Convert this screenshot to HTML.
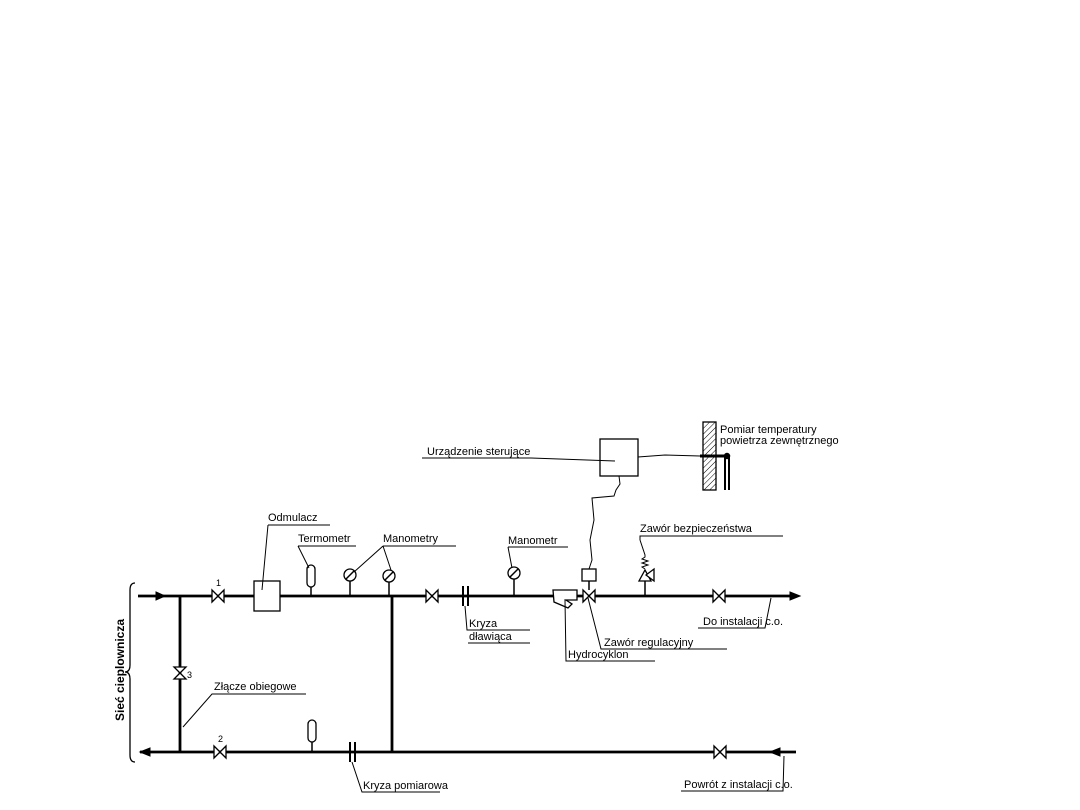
<!DOCTYPE html>
<html><head><meta charset="utf-8"><style>
html,body{margin:0;padding:0;background:#fff;width:1080px;height:810px;overflow:hidden}
svg text{font-family:"Liberation Sans",sans-serif;font-size:11px;fill:#000}
</style></head><body>
<svg width="1080" height="810" viewBox="0 0 1080 810" xmlns="http://www.w3.org/2000/svg">
<defs>
<pattern id="h" width="4" height="4" patternUnits="userSpaceOnUse" patternTransform="rotate(45)"><line x1="0" y1="0" x2="0" y2="4" stroke="#000" stroke-width="1"/></pattern>
</defs>
<g stroke="#000" fill="none">
<line x1="138" y1="596" x2="796" y2="596" stroke-width="2.8"/>
<line x1="140" y1="752" x2="796" y2="752" stroke-width="2.8"/>
<line x1="180" y1="596" x2="180" y2="752" stroke-width="2.8"/>
<line x1="392" y1="596" x2="392" y2="752" stroke-width="2.8"/>
<polygon points="156,592 165,596 156,600" fill="#000"/>
<polygon points="800,596 790,592 790,600" fill="#000"/>
<polygon points="140,752 150,748 150,756" fill="#000"/>
<polygon points="770,752 780,748 780,756" fill="#000"/>
<path d="M135,583 Q130,583 130,590 L130,665 Q130,672 125,672 Q130,672 130,679 L130,755 Q130,762 135,762" stroke-width="1.3"/>
</g>
<text transform="translate(124,670) rotate(-90)" text-anchor="middle" style="font-size:12px;font-weight:bold">Sieć cieplownicza</text>
<g stroke="#000" stroke-width="1.3" fill="#fff">
<polygon points="212,590 224,602 224,590 212,602"/>
<polygon points="426,590 438,602 438,590 426,602"/>
<polygon points="713,590 725,602 725,590 713,602"/>
<polygon points="214,746 226,758 226,746 214,758"/>
<polygon points="714,746 726,758 726,746 714,758"/>
<polygon points="174,667 186,667 174,679 186,679"/>
<rect x="254" y="581" width="26" height="30"/>
<rect x="307" y="565" width="8" height="22" rx="4"/>
<rect x="308" y="720" width="8" height="22" rx="4"/>
<circle cx="350" cy="575" r="6"/>
<circle cx="389" cy="576" r="6"/>
<circle cx="514" cy="573" r="6"/>
<rect x="600" y="439" width="38" height="37"/>
<rect x="582" y="569" width="14" height="12"/>
<path d="M553,590 L577,590 L577,600 L566,600 L572,604 L568,608 L554,602 Z"/>
<polygon points="583,590 595,602 595,590 583,602"/>
<polygon points="639,581 651,581 645,570"/>
<polygon points="646,575 654,569 654,581"/>
<rect x="703" y="422" width="13" height="68" fill="url(#h)"/>
</g>
<g stroke="#000" stroke-width="1.5" fill="none">
<line x1="311" y1="587" x2="311" y2="596"/>
<line x1="312" y1="742" x2="312" y2="752"/>
<line x1="350" y1="581" x2="350" y2="596"/>
<line x1="389" y1="582" x2="389" y2="596"/>
<line x1="514" y1="579" x2="514" y2="596"/>
<line x1="346" y1="579" x2="354" y2="571"/>
<line x1="385" y1="580" x2="393" y2="572"/>
<line x1="510" y1="577" x2="518" y2="569"/>
<line x1="589" y1="581" x2="589" y2="590"/>
<line x1="645" y1="581" x2="645" y2="596"/>
<path d="M645,569 l-3,-2 l6,-2 l-6,-2 l6,-2 l-6,-2 l3,-2 L645,555 L640,540" stroke-width="1"/>
<line x1="463" y1="586" x2="463" y2="606" stroke-width="2"/>
<line x1="468" y1="586" x2="468" y2="606" stroke-width="2"/>
<line x1="350" y1="742" x2="350" y2="762" stroke-width="2"/>
<line x1="355" y1="742" x2="355" y2="762" stroke-width="2"/>
<line x1="700" y1="456" x2="727" y2="456" stroke-width="3"/>
<circle cx="727" cy="456" r="2.5" fill="#000"/>
<line x1="725" y1="456" x2="725" y2="490" stroke-width="2"/>
<line x1="729" y1="456" x2="729" y2="490" stroke-width="2"/>
</g>
<g stroke="#000" stroke-width="1" fill="none">
<path d="M638,457 L665,455 L700,456"/>
<path d="M619,476 L620,484 L616,490 L614,496 L592,498 L594,520 L590,540 L592,560 L589,569"/>
<path d="M268,525 L330,525 M268,525 L262,590"/>
<path d="M298,546 L356,546 M298,546 L309,568"/>
<path d="M383,546 L456,546 M383,546 L354,572 M383,546 L391,570"/>
<path d="M508,547 L568,547 M508,547 L512,568"/>
<path d="M465,606 L467,630 L530,630"/>
<path d="M468,643 L530,643"/>
<path d="M565,600 L566,661 L655,661"/>
<path d="M588,598 L601,649 L727,649"/>
<path d="M640,540 L640,536 L783,536"/>
<path d="M698,628 L765,628 L771,598"/>
<path d="M183,727 L212,694 L306,694"/>
<path d="M352,762 L362,792 L440,792"/>
<path d="M681,791 L783,791 L784,756"/>
<path d="M422,458 L531,458 L615,461"/>
</g>
<g>
<text x="268" y="521">Odmulacz</text>
<text x="298" y="542">Termometr</text>
<text x="383" y="542">Manometry</text>
<text x="508" y="544">Manometr</text>
<text x="469" y="627">Kryza</text>
<text x="469" y="640">dławiąca</text>
<text x="568" y="658">Hydrocyklon</text>
<text x="604" y="646">Zawór regulacyjny</text>
<text x="640" y="532">Zawór bezpieczeństwa</text>
<text x="703" y="625">Do instalacji c.o.</text>
<text x="214" y="690">Złącze obiegowe</text>
<text x="363" y="789">Kryza pomiarowa</text>
<text x="684" y="788">Powrót z instalacji c.o.</text>
<text x="427" y="455">Urządzenie sterujące</text>
<text x="720" y="433">Pomiar temperatury</text>
<text x="720" y="444">powietrza zewnętrznego</text>
<text x="216" y="586" style="font-size:9px">1</text>
<text x="218" y="742" style="font-size:9px">2</text>
<text x="187" y="678" style="font-size:9px">3</text>
</g>
</svg>
</body></html>
